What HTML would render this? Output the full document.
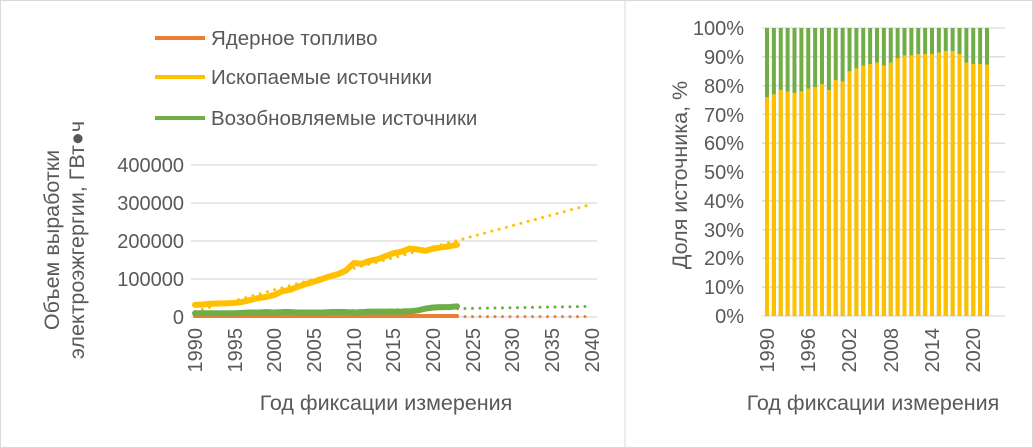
<!DOCTYPE html>
<html><head><meta charset="utf-8"><style>
body{margin:0;background:#fff}
svg{display:block;font-family:"Liberation Sans",sans-serif;fill:#595959}
</style></head><body>
<svg id="s" width="1033" height="448" viewBox="0 0 1033 448">
<rect x="0.5" y="0.5" width="1032" height="447" fill="#fff" stroke="#d9d9d9"/>
<line x1="625" y1="0" x2="625" y2="448" stroke="#d9d9d9"/>
<g id="grid" stroke="#d9d9d9" stroke-width="1.3"></g>
<g id="plot"></g>
<line x1="155" y1="38" x2="205" y2="38" stroke="#ED7D31" stroke-width="4"/>
<line x1="155" y1="77" x2="205" y2="77" stroke="#FFC000" stroke-width="4"/>
<line x1="155" y1="118" x2="205" y2="118" stroke="#70AD47" stroke-width="4"/>
<g font-size="20.5">
<text x="211" y="45">Ядерное топливо</text>
<text x="211" y="84">Ископаемые источники</text>
<text x="211" y="125">Возобновляемые источники</text>
</g>
<g font-size="20" text-anchor="end">
<text x="184" y="172">400000</text><text x="184" y="210">300000</text><text x="184" y="248">200000</text><text x="184" y="286">100000</text><text x="184" y="324">0</text>
<text x="744" y="35">100%</text><text x="744" y="64">90%</text><text x="744" y="93">80%</text><text x="744" y="122">70%</text><text x="744" y="150">60%</text><text x="744" y="179">50%</text><text x="744" y="208">40%</text><text x="744" y="237">30%</text><text x="744" y="265">20%</text><text x="744" y="294">10%</text><text x="744" y="323">0%</text>
</g>
<g font-size="20" text-anchor="end">
<text transform="translate(202,328) rotate(-90)">1990</text>
<text transform="translate(242,328) rotate(-90)">1995</text>
<text transform="translate(281,328) rotate(-90)">2000</text>
<text transform="translate(321,328) rotate(-90)">2005</text>
<text transform="translate(361,328) rotate(-90)">2010</text>
<text transform="translate(400,328) rotate(-90)">2015</text>
<text transform="translate(440,328) rotate(-90)">2020</text>
<text transform="translate(480,328) rotate(-90)">2025</text>
<text transform="translate(519,328) rotate(-90)">2030</text>
<text transform="translate(559,328) rotate(-90)">2035</text>
<text transform="translate(599,328) rotate(-90)">2040</text>
<text transform="translate(774,328) rotate(-90)">1990</text>
<text transform="translate(815,328) rotate(-90)">1996</text>
<text transform="translate(856,328) rotate(-90)">2002</text>
<text transform="translate(898,328) rotate(-90)">2008</text>
<text transform="translate(939,328) rotate(-90)">2014</text>
<text transform="translate(980,328) rotate(-90)">2020</text>
</g>
<g font-size="21.5" text-anchor="middle">
<text x="386" y="410">Год фиксации измерения</text>
<text x="873" y="410">Год фиксации измерения</text>
<text transform="translate(59,240) rotate(-90)">Объем выработки</text>
<text transform="translate(84,240) rotate(-90)">электроэжгергии, ГВт●ч</text>
<text transform="translate(687,175) rotate(-90)">Доля источника, %</text>
</g>
</svg>
<script>
var NS="http://www.w3.org/2000/svg",g=document.getElementById('grid'),p=document.getElementById('plot');
function el(t,a,par){var e=document.createElementNS(NS,t);for(var k in a)e.setAttribute(k,a[k]);(par||p).appendChild(e);return e;}
[165,203,241,279,317].forEach(function(y){el('line',{x1:191,x2:597,y1:y,y2:y},g)});
for(var i=0;i<=10;i++){var y=28+i*28.8;el('line',{x1:762,x2:1005,y1:y,y2:y},g)}
function X(yr){return 195+(yr-1990)*7.94}function Y(v){return 317-v*0.38}
function line(data,c,w){var s=data.map(function(v,i){return X(1990+i)+','+Y(v)}).join(' ');el('polyline',{points:s,fill:'none',stroke:c,'stroke-width':w,'stroke-linejoin':'round','stroke-linecap':'round'})}
function trend(a,b,c){el('line',{x1:X(1990),y1:Y(a),x2:X(2040),y2:Y(b),stroke:c,'stroke-width':3,'stroke-dasharray':'0 7.5','stroke-linecap':'round'})}
trend(15,297,'#FFC000');trend(10,28,'#70AD47');trend(1,1,'#ED7D31');
var f=[32,33,35,36,36,37,40,45,50,53,58,68,72,80,87,93,100,107,113,122,142,140,148,152,160,168,172,180,178,174,180,183,186,190];
var r=[10,10,10,10,10,10,11,12,12,13,12,13,13,12,12,12,12,13,13,13,12,13,14,14,14,14,14,15,17,22,25,26,26,28];
var n=r.map(function(){return 2.5});
line(n,'#ED7D31',4);line(r,'#70AD47',6);line(f,'#FFC000',6);
var sh=[76,77,78.5,78,77.5,78,79,79.5,80.5,78.5,82,81.5,85,86,87,87.5,88,87,88,89.5,90.5,90.5,91,91,91,91.5,92,92,91,88,87.5,87.5,87.3];
sh.forEach(function(v,i){var x=767+i*6.875-2;el('rect',{x:x,y:28,width:4,height:288,fill:'#70AD47'});var h=v/100*288;el('rect',{x:x,y:316-h,width:4,height:h,fill:'#FFC000'})});
</script>
</body></html>
